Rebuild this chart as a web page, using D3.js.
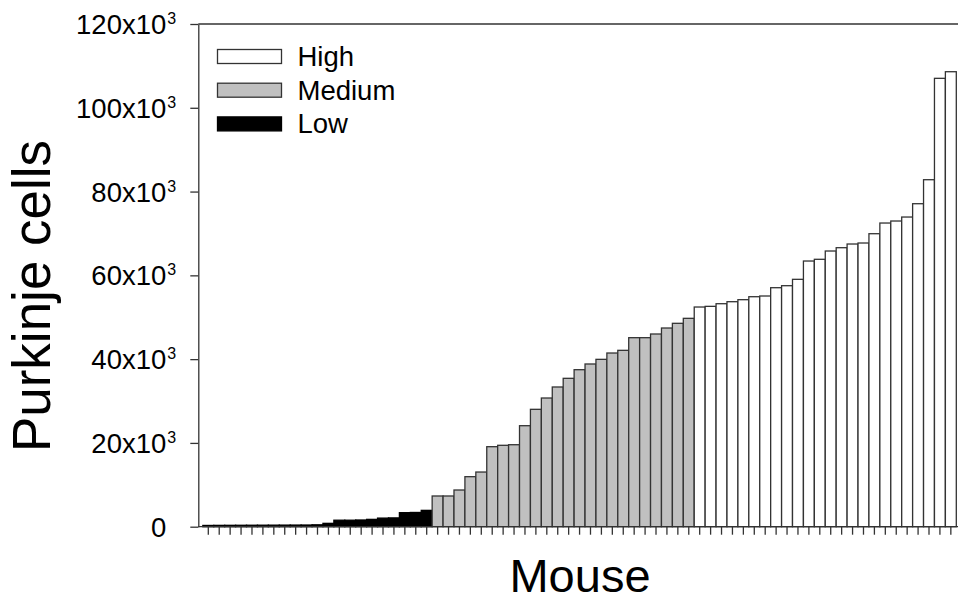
<!DOCTYPE html>
<html>
  <head>
    <meta charset="utf-8">
    <title>Purkinje cells</title>
    <script src="https://cdn.jsdelivr.net/npm/d3@7/dist/d3.min.js"></script>
    <style>
      body { margin: 0; background: #fff; }
      text { font-family: "Liberation Sans", Arial, sans-serif; fill: #000; }
    </style>
  </head>
  <body>
    <svg id="chart" width="958" height="602"></svg>
    <script>
      // cells per mouse, sorted, split by group
      var lowCells = [300, 320, 330, 340, 350, 360, 370, 380, 390, 400, 450,
        800, 1550, 1550, 1600, 1750, 2050, 2100, 3350, 3400, 3900];
      var mediumCells = [7330, 7330, 8760, 11940, 13050, 19100, 19430, 19570,
        24110, 28020, 30720, 33350, 35420, 37480, 38840, 39950, 41460, 42100,
        45120, 45120, 46000, 47430, 48550, 49740];
      var highCells = [52440, 52600, 53230, 53710, 54190, 54900, 55070, 57050,
        57530, 59050, 63420, 63830, 65810, 66600, 67480, 67720, 69940, 72490,
        72970, 73920, 77100, 82830, 107030, 108610];
      var groups = ["High", "Medium", "Low"];
      var yTicks = [0, 20000, 40000, 60000, 80000, 100000, 120000];

      var fills = {High: "#ffffff", Medium: "#c0c0c0", Low: "#000000"};

      var data = [];
      lowCells.forEach(function(v) { data.push({g: "Low", v: v}); });
      mediumCells.forEach(function(v) { data.push({g: "Medium", v: v}); });
      highCells.forEach(function(v) { data.push({g: "High", v: v}); });
      data.forEach(function(d, i) { d.i = i; });

      var svg = d3.select("#chart");
      var axisX = 198.3;

      var x = d3.scaleBand()
        .domain(data.map(function(d) { return d.i; }))
        .range([202.84, 956.3])
        .padding(0);

      var y = d3.scaleLinear()
        .domain([0, 120000])
        .range([526.7, 24]);

      // frame line on top
      svg.append("line")
        .attr("x1", axisX).attr("x2", 958)
        .attr("y1", y(120000)).attr("y2", y(120000))
        .style("stroke", "#333").style("stroke-width", 1.3);

      // bars
      svg.append("g")
        .selectAll("rect")
        .data(data)
        .enter().append("rect")
        .attr("x", function(d) { return x(d.i); })
        .attr("width", x.bandwidth())
        .attr("y", function(d) { return y(d.v); })
        .attr("height", function(d) { return y(0) - y(d.v); })
        .style("fill", function(d) { return fills[d.g]; })
        .style("stroke", function(d) { return d.g == "Low" ? "#000" : "#333"; })
        .style("stroke-width", 1.3);

      // x axis: ticks only
      var gx = svg.append("g")
        .attr("transform", "translate(0," + y(0) + ")")
        .call(d3.axisBottom(x).tickSize(8).tickSizeOuter(0).tickFormat(""));
      gx.select(".domain").remove();
      gx.selectAll("line").style("stroke", "#333").style("stroke-width", 1.3);
      gx.append("line")
        .attr("x1", axisX).attr("x2", 958)
        .style("stroke", "#333").style("stroke-width", 1.3);

      // y axis
      var gy = svg.append("g")
        .attr("transform", "translate(" + axisX + ",0)")
        .call(d3.axisLeft(y).tickValues(yTicks).tickSize(8).tickSizeOuter(0).tickPadding(24)
          .tickFormat(function(d) { return d == 0 ? "0" : (d / 1000) + "x10"; }));
      gy.select(".domain").style("stroke", "#333").style("stroke-width", 1.3);
      gy.selectAll(".tick line").style("stroke", "#333").style("stroke-width", 1.3);
      gy.selectAll(".tick text")
        .style("font-size", "27.5px")
        .attr("dy", "0.35em");
      gy.selectAll(".tick").filter(function(d) { return d != 0; })
        .append("text")
        .attr("x", -31)
        .attr("y", -0.5)
        .attr("text-anchor", "start")
        .style("font-size", "16px")
        .text("3");

      // legend
      var legend = svg.append("g")
        .selectAll("g")
        .data(groups)
        .enter().append("g")
        .attr("transform", function(d, i) { return "translate(217.5," + (49.5 + i * 33.7) + ")"; });
      legend.append("rect")
        .attr("width", 64).attr("height", 14)
        .style("fill", function(d) { return fills[d]; })
        .style("stroke", function(d) { return d == "Low" ? "#000" : "#333"; })
        .style("stroke-width", 1.3);
      legend.append("text")
        .attr("x", 80).attr("y", 16.5)
        .style("font-size", "27.5px")
        .text(function(d) { return d; });

      // axis titles
      svg.append("text")
        .attr("x", 580).attr("y", 591.5)
        .attr("text-anchor", "middle")
        .style("font-size", "47px")
        .text("Mouse");

      svg.append("text")
        .attr("transform", "translate(50,296) rotate(-90)")
        .attr("text-anchor", "middle")
        .style("font-size", "53px")
        .text("Purkinje cells");
    </script>
  </body>
</html>
